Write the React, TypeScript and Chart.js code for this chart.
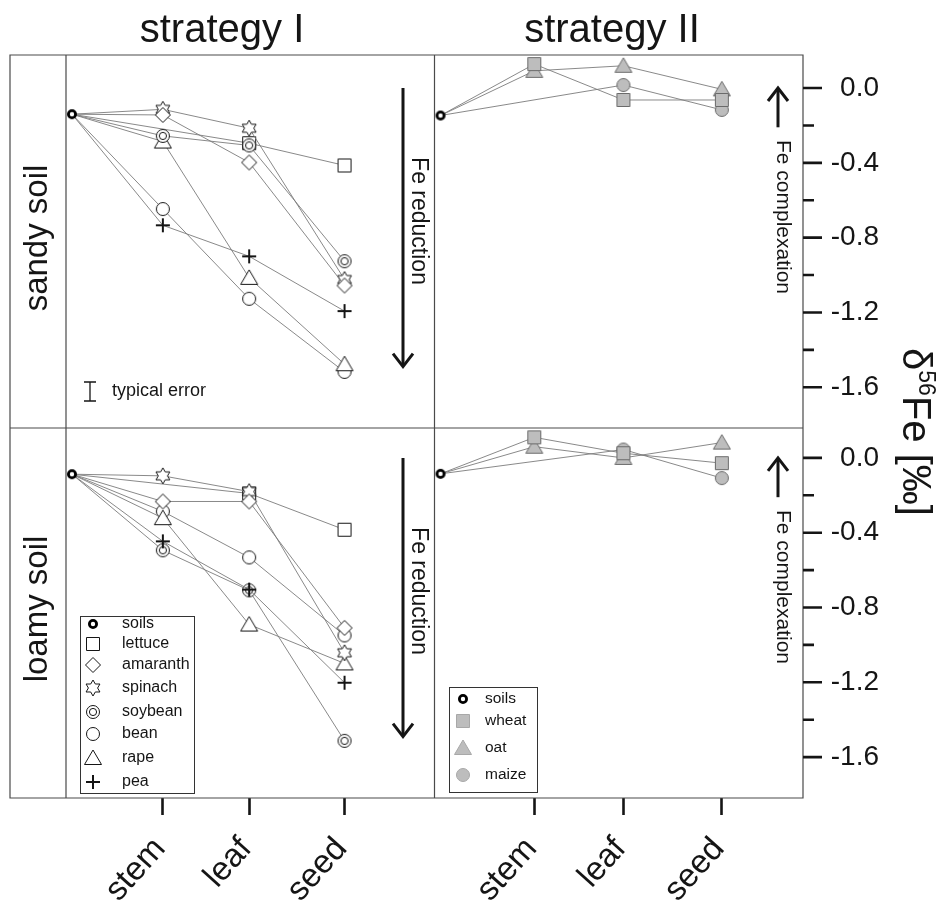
import React, { useEffect, useRef } from 'react';
import { Chart, registerables } from 'chart.js';

Chart.register(...registerables);

const FONT = "'Liberation Sans', Arial, Helvetica, sans-serif";

// ---------- categories / ticks ----------
const STAGES = ['soil', 'stem', 'leaf', 'seed'];
const STAGE_POS = [0, 1, 1.95, 3];
const X_TICK_LABELS = ['stem', 'leaf', 'seed'];
const Y_MAJOR = [0, -0.4, -0.8, -1.2, -1.6];
const Y_MINOR = [-0.2, -0.6, -1.0, -1.4];

// ---------- strategy I, sandy soil (soil, stem, leaf, seed) ----------
const sandyI_soil = [-0.14];
const sandyI_lettuce = [-0.14, null, -0.295, -0.414];
const sandyI_amaranth = [-0.14, -0.144, -0.398, -1.056];
const sandyI_spinach = [-0.14, -0.114, -0.215, -1.024];
const sandyI_soybean = [-0.14, -0.256, -0.307, -0.926];
const sandyI_bean = [-0.14, -0.647, -1.127, -1.518];
const sandyI_rape = [-0.14, -0.286, -1.015, -1.477];
const sandyI_pea = [-0.14, -0.734, -0.9, -1.193];

// ---------- strategy I, loamy soil ----------
const loamyI_soil = [-0.087];
const loamyI_lettuce = [-0.087, null, -0.19, -0.384];
const loamyI_amaranth = [-0.087, -0.233, -0.233, -0.909];
const loamyI_spinach = [-0.087, -0.096, -0.18, -1.042];
const loamyI_soybean = [-0.087, -0.494, -0.708, -1.513];
const loamyI_bean = [-0.087, -0.286, -0.532, -0.949];
const loamyI_rape = [-0.087, -0.322, -0.891, -1.099];
const loamyI_pea = [-0.087, -0.446, -0.704, -1.202];

// ---------- strategy II, sandy soil ----------
const sandyII_soil = [-0.147];
const sandyII_wheat = [-0.147, 0.128, -0.064, -0.064];
const sandyII_oat = [-0.147, 0.092, 0.119, -0.007];
const sandyII_maize = [-0.147, null, 0.016, -0.117];

// ---------- strategy II, loamy soil ----------
const loamyII_soil = [-0.085];
const loamyII_wheat = [-0.085, 0.11, 0.025, -0.028];
const loamyII_oat = [-0.085, 0.06, 0.0, 0.082];
const loamyII_maize = [-0.085, null, 0.045, -0.108];

const LEGEND_I = ['soils', 'lettuce', 'amaranth', 'spinach', 'soybean', 'bean', 'rape', 'pea'];
const LEGEND_II = ['soils', 'wheat', 'oat', 'maize'];

const MARKER_KIND: Record<string, string> = {
  soils: 'soil', lettuce: 'square', amaranth: 'diamond', spinach: 'hexagram',
  soybean: 'double', bean: 'circle', rape: 'triangle', pea: 'plus',
  wheat: 'square', oat: 'triangle', maize: 'circle',
};

const LINE_COLOR = '#7c7c7c';
const INK = '#151515';

function drawMarker(ctx: CanvasRenderingContext2D, kind: string, cx: number, cy: number, fill: string, stroke: string) {
  ctx.save();
  ctx.fillStyle = fill;
  ctx.strokeStyle = stroke;
  ctx.lineWidth = 1;
  ctx.lineJoin = 'miter';
  ctx.beginPath();
  switch (kind) {
    case 'soil':
      ctx.arc(cx, cy, 3.6, 0, Math.PI * 2);
      ctx.fillStyle = '#fff';
      ctx.fill();
      ctx.lineWidth = 2.8;
      ctx.strokeStyle = '#000';
      ctx.stroke();
      break;
    case 'square':
      ctx.rect(cx - 6.5, cy - 6.5, 13, 13);
      ctx.fill();
      ctx.stroke();
      break;
    case 'diamond':
      ctx.moveTo(cx, cy - 7.5);
      ctx.lineTo(cx + 7.5, cy);
      ctx.lineTo(cx, cy + 7.5);
      ctx.lineTo(cx - 7.5, cy);
      ctx.closePath();
      ctx.fill();
      ctx.stroke();
      break;
    case 'hexagram':
      for (let k = 0; k < 12; k++) {
        const a = -Math.PI / 2 + (k * Math.PI) / 6;
        const r = k % 2 === 0 ? 8 : 4.6;
        const px = cx + r * Math.cos(a);
        const py = cy + r * Math.sin(a);
        if (k === 0) ctx.moveTo(px, py);
        else ctx.lineTo(px, py);
      }
      ctx.closePath();
      ctx.fill();
      ctx.stroke();
      break;
    case 'double':
      ctx.arc(cx, cy, 6.5, 0, Math.PI * 2);
      ctx.fill();
      ctx.stroke();
      ctx.beginPath();
      ctx.arc(cx, cy, 3.6, 0, Math.PI * 2);
      ctx.stroke();
      break;
    case 'circle':
      ctx.arc(cx, cy, 6.5, 0, Math.PI * 2);
      ctx.fill();
      ctx.stroke();
      break;
    case 'triangle':
      ctx.moveTo(cx, cy - 8);
      ctx.lineTo(cx + 8.5, cy + 6.5);
      ctx.lineTo(cx - 8.5, cy + 6.5);
      ctx.closePath();
      ctx.fill();
      ctx.stroke();
      break;
    case 'plus':
      ctx.moveTo(cx - 7, cy);
      ctx.lineTo(cx + 7, cy);
      ctx.moveTo(cx, cy - 7);
      ctx.lineTo(cx, cy + 7);
      ctx.lineWidth = 2;
      ctx.strokeStyle = stroke;
      ctx.stroke();
      break;
  }
  ctx.restore();
}

function makeMarker(kind: string, fill: string, stroke: string): HTMLCanvasElement {
  const c = document.createElement('canvas');
  c.width = 24;
  c.height = 24;
  const g = c.getContext('2d')!;
  drawMarker(g, kind, 12, 12, fill, stroke);
  return c;
}

function toPoints(values: (number | null)[]) {
  const pts: { x: number; y: number }[] = [];
  values.forEach((v, i) => {
    if (v !== null) pts.push({ x: STAGE_POS[i], y: v });
  });
  return pts;
}

function arrow(ctx: CanvasRenderingContext2D, x: number, yFrom: number, yTo: number) {
  const dir = yTo > yFrom ? 1 : -1;
  ctx.save();
  ctx.strokeStyle = INK;
  ctx.lineWidth = 3;
  ctx.lineCap = 'butt';
  ctx.lineJoin = 'miter';
  ctx.beginPath();
  ctx.moveTo(x, yFrom);
  ctx.lineTo(x, yTo - dir * 1);
  ctx.stroke();
  ctx.beginPath();
  ctx.moveTo(x - 10, yTo - dir * 13);
  ctx.lineTo(x, yTo);
  ctx.lineTo(x + 10, yTo - dir * 13);
  ctx.stroke();
  ctx.restore();
}

function rotText(ctx: CanvasRenderingContext2D, str: string, x: number, y: number, size: number, rot: number, baseline: CanvasTextBaseline = 'middle') {
  ctx.save();
  ctx.translate(x, y);
  ctx.rotate(rot);
  ctx.font = `${size}px ${FONT}`;
  ctx.fillStyle = INK;
  ctx.textAlign = 'center';
  ctx.textBaseline = baseline;
  ctx.fillText(str, 0, 0);
  ctx.restore();
}

export default function App() {
  const ref = useRef<HTMLCanvasElement>(null);

  useEffect(() => {
    const canvas = ref.current;
    if (!canvas) return;

    const markersI: Record<string, HTMLCanvasElement> = {};
    LEGEND_I.forEach((n) => (markersI[n] = makeMarker(MARKER_KIND[n], '#ffffff', INK)));
    const markersII: Record<string, HTMLCanvasElement> = {};
    LEGEND_II.forEach((n) => (markersII[n] = makeMarker(MARKER_KIND[n], '#bdbdbd', '#6a6a6a')));
    const legendII: Record<string, HTMLCanvasElement> = {};
    LEGEND_II.forEach((n) => (legendII[n] = makeMarker(MARKER_KIND[n], '#bdbdbd', '#a8a8a8')));

    const series = (label: string, values: (number | null)[], marker: HTMLCanvasElement, xAxisID: string, yAxisID: string) => ({
      label,
      data: toPoints(values),
      xAxisID,
      yAxisID,
      showLine: true,
      borderColor: LINE_COLOR,
      borderWidth: 0.9,
      backgroundColor: '#fff',
      pointStyle: (c: any) => (c.raw && c.raw.x === 0 ? false : marker),
      pointRadius: (c: any) => (c.raw && c.raw.x === 0 ? 0 : 6),
      pointHoverRadius: 0,
    });

    const datasets: any[] = [
      series('soils', sandyI_soil, markersI.soils, 'xL', 'yT'),
      series('soils', loamyI_soil, markersI.soils, 'xL', 'yB'),
      series('soils', sandyII_soil, markersII.soils, 'xR', 'yT'),
      series('soils', loamyII_soil, markersII.soils, 'xR', 'yB'),
    ];
    // the soil points themselves are shown for the soil datasets
    datasets.forEach((d) => {
      d.pointStyle = markersI.soils;
      d.pointRadius = 5;
    });

    // drawing order: earlier entries are drawn on top
    const groupI: [string, (number | null)[], (number | null)[]][] = [
      ['pea', sandyI_pea, loamyI_pea],
      ['amaranth', sandyI_amaranth, loamyI_amaranth],
      ['soybean', sandyI_soybean, loamyI_soybean],
      ['spinach', sandyI_spinach, loamyI_spinach],
      ['rape', sandyI_rape, loamyI_rape],
      ['bean', sandyI_bean, loamyI_bean],
      ['lettuce', sandyI_lettuce, loamyI_lettuce],
    ];
    const groupII: [string, (number | null)[], (number | null)[]][] = [
      ['wheat', sandyII_wheat, loamyII_wheat],
      ['oat', sandyII_oat, loamyII_oat],
      ['maize', sandyII_maize, loamyII_maize],
    ];
    groupI.forEach(([n, s, l]) => {
      datasets.push(series(n, s, markersI[n], 'xL', 'yT'));
      datasets.push(series(n, l, markersI[n], 'xL', 'yB'));
    });
    groupII.forEach(([n, s, l]) => {
      datasets.push(series(n, s, markersII[n], 'xR', 'yT'));
      datasets.push(series(n, l, markersII[n], 'xR', 'yB'));
    });

    const xScale = (min: number, max: number) => ({
      type: 'linear',
      position: 'bottom',
      stack: 'x',
      stackWeight: 1,
      min,
      max,
      grid: { display: true, drawOnChartArea: false, drawTicks: true, tickLength: 17, tickColor: INK, tickWidth: 2.6 },
      border: { display: false },
      ticks: {
        autoSkip: false,
        minRotation: 48,
        maxRotation: 48,
        padding: 15,
        labelOffset: -3,
        color: INK,
        font: { family: FONT, size: 33 },
        callback: (_v: any, i: number) => X_TICK_LABELS[i],
      },
      afterBuildTicks: (s: any) => {
        s.ticks = STAGE_POS.slice(1).map((v) => ({ value: v }));
      },
      afterFit: (s: any) => {
        s.height = 103;
      },
    });

    const yScale = (min: number, max: number, weight: number) => ({
      type: 'linear',
      position: 'right',
      stack: 'y',
      stackWeight: weight,
      min,
      max,
      grid: { display: false, drawTicks: false },
      border: { display: false },
      ticks: {
        padding: 25,
        crossAlign: 'far',
        color: INK,
        font: { family: FONT, size: 28 },
        callback: (v: any) => Number(v).toFixed(1),
      },
      afterBuildTicks: (s: any) => {
        s.ticks = Y_MAJOR.map((v) => ({ value: v }));
      },
      afterFit: (s: any) => {
        s.width = 76;
      },
    });

    const decor = {
      id: 'decor',
      beforeDatasetsDraw(chart: any) {
        const { ctx, chartArea: a } = chart;
        const xL = chart.scales.xL;
        const yT = chart.scales.yT;
        ctx.save();
        ctx.strokeStyle = '#4a4a4a';
        ctx.lineWidth = 1.2;
        ctx.beginPath();
        ctx.rect(10, a.top, a.right - 10, a.bottom - a.top);
        ctx.moveTo(a.left, a.top);
        ctx.lineTo(a.left, a.bottom);
        ctx.moveTo(xL.right, a.top);
        ctx.lineTo(xL.right, a.bottom);
        ctx.moveTo(10, yT.bottom);
        ctx.lineTo(a.right, yT.bottom);
        ctx.stroke();
        ctx.restore();
      },
      afterDraw(chart: any) {
        const { ctx, chartArea: a } = chart;
        const yT = chart.scales.yT;
        const yB = chart.scales.yB;

        // y ticks (major + minor)
        ctx.save();
        ctx.strokeStyle = INK;
        ctx.lineWidth = 2.6;
        ctx.beginPath();
        [yT, yB].forEach((s: any) => {
          Y_MAJOR.forEach((v) => {
            const y = s.getPixelForValue(v);
            ctx.moveTo(a.right, y);
            ctx.lineTo(a.right + 19, y);
          });
          Y_MINOR.forEach((v) => {
            const y = s.getPixelForValue(v);
            ctx.moveTo(a.right, y);
            ctx.lineTo(a.right + 11, y);
          });
        });
        ctx.stroke();
        ctx.restore();

        // column titles
        rotText(ctx, 'strategy I', 222, 42, 40, 0, 'alphabetic');
        rotText(ctx, 'strategy II', 612, 42, 40, 0, 'alphabetic');

        // row labels
        rotText(ctx, 'sandy soil', 47, 238, 33, -Math.PI / 2, 'alphabetic');
        rotText(ctx, 'loamy soil', 47, 609, 33, -Math.PI / 2, 'alphabetic');

        // Fe reduction arrows + text
        arrow(ctx, 403, yT.getPixelForValue(0), yT.getPixelForValue(-1.49));
        arrow(ctx, 403, yB.getPixelForValue(0), yB.getPixelForValue(-1.49));
        rotText(ctx, 'Fe reduction', 418, 221, 23, Math.PI / 2);
        rotText(ctx, 'Fe reduction', 418, 591, 23, Math.PI / 2);

        // Fe complexation arrows + text
        arrow(ctx, 778, yT.getPixelForValue(-0.21), yT.getPixelForValue(0));
        arrow(ctx, 778, yB.getPixelForValue(-0.21), yB.getPixelForValue(0));
        rotText(ctx, 'Fe complexation', 783, 217, 21, Math.PI / 2);
        rotText(ctx, 'Fe complexation', 783, 587, 21, Math.PI / 2);

        // y axis title  δ56Fe [‰]
        ctx.save();
        ctx.translate(917, 432);
        ctx.rotate(Math.PI / 2);
        ctx.fillStyle = INK;
        ctx.textAlign = 'left';
        ctx.textBaseline = 'alphabetic';
        const big = 40;
        const small = 23;
        ctx.font = `${big}px ${FONT}`;
        const w1 = ctx.measureText('δ').width;
        const w3 = ctx.measureText('Fe [‰]').width;
        ctx.font = `${small}px ${FONT}`;
        const w2 = ctx.measureText('56').width;
        let x = -(w1 + w2 + w3) / 2;
        const base = big * 0.36;
        ctx.font = `${big}px ${FONT}`;
        ctx.fillText('δ', x, base);
        x += w1;
        ctx.font = `${small}px ${FONT}`;
        ctx.fillText('56', x, base - big * 0.42);
        x += w2;
        ctx.font = `${big}px ${FONT}`;
        ctx.fillText('Fe [‰]', x, base);
        ctx.restore();

        // typical error
        ctx.save();
        ctx.strokeStyle = INK;
        ctx.lineWidth = 1.3;
        ctx.beginPath();
        ctx.moveTo(90, 382);
        ctx.lineTo(90, 401);
        ctx.moveTo(84, 382);
        ctx.lineTo(96, 382);
        ctx.moveTo(84, 401);
        ctx.lineTo(96, 401);
        ctx.stroke();
        ctx.font = `18px ${FONT}`;
        ctx.fillStyle = INK;
        ctx.textAlign = 'left';
        ctx.textBaseline = 'middle';
        ctx.fillText('typical error', 112, 391);
        ctx.restore();

        // legend strategy I
        ctx.save();
        ctx.strokeStyle = '#333';
        ctx.lineWidth = 1;
        ctx.fillStyle = '#fff';
        ctx.fillRect(80.5, 616.5, 114, 177);
        ctx.strokeRect(80.5, 616.5, 114, 177);
        const ysI = [624, 644, 665, 688, 712, 734, 758, 782];
        ctx.font = `16px ${FONT}`;
        ctx.fillStyle = INK;
        ctx.textAlign = 'left';
        ctx.textBaseline = 'middle';
        LEGEND_I.forEach((n, i) => {
          ctx.drawImage(markersI[n], 93 - 12, ysI[i] - 12);
          ctx.fillText(n, 122, ysI[i]);
        });
        ctx.restore();

        // legend strategy II
        ctx.save();
        ctx.strokeStyle = '#333';
        ctx.lineWidth = 1;
        ctx.fillStyle = '#fff';
        ctx.fillRect(449.5, 687.5, 88, 105);
        ctx.strokeRect(449.5, 687.5, 88, 105);
        const ysII = [699, 721, 748, 775];
        ctx.font = `15.5px ${FONT}`;
        ctx.fillStyle = INK;
        ctx.textAlign = 'left';
        ctx.textBaseline = 'middle';
        LEGEND_II.forEach((n, i) => {
          const img = n === 'soils' ? markersII.soils : legendII[n];
          ctx.drawImage(img, 463 - 12, ysII[i] - 12);
          ctx.fillText(n, 485, ysII[i]);
        });
        ctx.restore();
      },
    };

    const chart = new Chart(canvas, {
      type: 'scatter',
      data: { datasets },
      options: {
        responsive: false,
        devicePixelRatio: 1,
        animation: false,
        events: [],
        layout: { padding: { left: 66, top: 55, right: 64, bottom: 0 } },
        plugins: { legend: { display: false }, tooltip: { enabled: false } },
        scales: {
          xL: xScale(-0.066, 3.99),
          xR: xScale(-0.064, 3.865),
          yT: yScale(-1.818, 0.1766, 373),
          yB: yScale(-1.8186, 0.16, 370),
        } as any,
      },
      plugins: [decor],
    } as any);

    return () => chart.destroy();
  }, []);

  return (
    <div style={{ position: 'absolute', left: 0, top: 0, width: 943, height: 901, background: '#fff' }}>
      <canvas ref={ref} width={943} height={901} style={{ display: 'block', width: 943, height: 901 }} />
    </div>
  );
}
